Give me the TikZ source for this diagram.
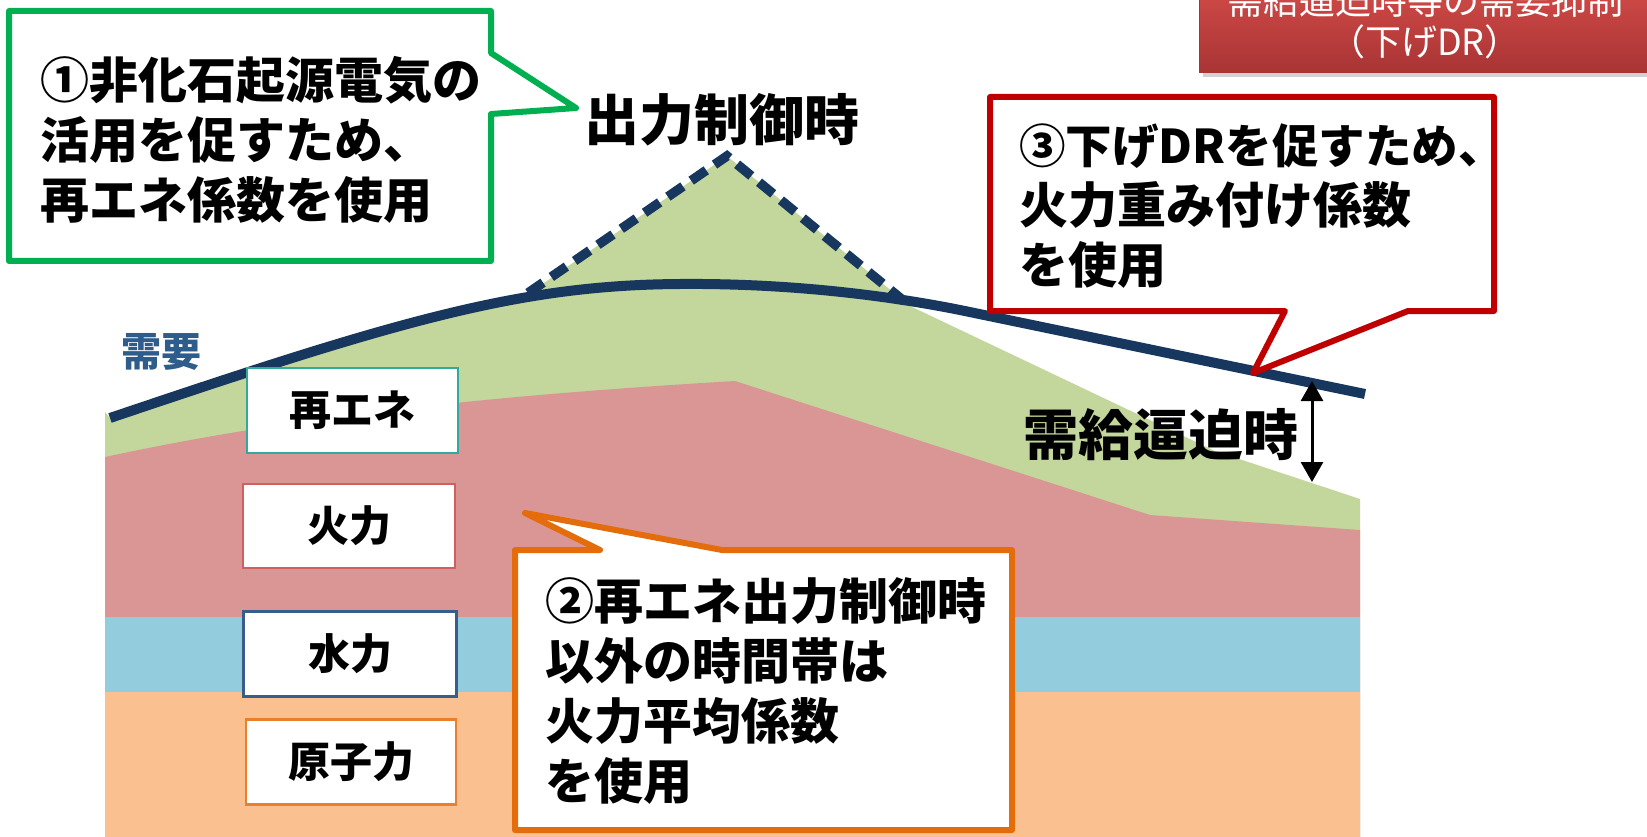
\documentclass[tikz,border=0pt]{standalone}
\usepackage{fontspec}
\newfontfamily\jp{Noto Sans CJK JP}
\usetikzlibrary{arrows.meta,shadows}
\definecolor{renew}{HTML}{C3D69B}
\definecolor{therm}{HTML}{D99694}
\definecolor{hydro}{HTML}{93CDDD}
\definecolor{nuc}{HTML}{FAC090}
\definecolor{navy}{HTML}{17375E}
\definecolor{cgreen}{HTML}{00B050}
\definecolor{cred}{HTML}{C00000}
\definecolor{corange}{HTML}{E46C0A}
\definecolor{renewB}{HTML}{31A99B}
\definecolor{thermB}{HTML}{D0605E}
\definecolor{hydroB}{HTML}{385D8A}
\definecolor{nucB}{HTML}{E8802E}
\definecolor{demandtxt}{HTML}{2E5D8C}
\definecolor{bantop}{HTML}{D04A47}
\definecolor{banbot}{HTML}{A83434}
\begin{document}
\begin{tikzpicture}[x=1pt,y=-1pt,
  callout/.style={line width=6pt, fill=white, line join=round},
  calltext/.style={font=\jp\bfseries\fontsize{49}{60}\selectfont, align=left, anchor=west, inner sep=0pt},
  legbox/.style={draw, line width=2.5pt, fill=white, inner sep=0pt,
     font=\jp\bfseries\fontsize{42}{50}\selectfont},
  bigtext/.style={font=\jp\bfseries\fontsize{55}{60}\selectfont, inner sep=0pt},
  demandline/.style={draw=navy, line width=10pt},
  peakline/.style={draw=navy, line width=9.5pt, dash pattern=on 18.3pt off 10pt},
  gaparrow/.style={{Triangle[width=22pt,length=20pt]}-{Triangle[width=22pt,length=20pt]}, line width=3pt}
]
\useasboundingbox (0,0) rectangle (1647,837);
\fill[white] (0,0) rectangle (1647,837);

% stacked layers
\fill[renew] (105,837) -- (105,412) -- (110,418) .. controls (400,320) and (520,285) .. (680,284) -- (680,837) -- cycle;
\fill[renew] (528,294) -- (727,156) -- (910,306) -- (1215,451) -- (1360,499) -- (1360,837) -- (528,837) -- cycle;
\fill[therm] (105,837) -- (105,457) .. controls (300,415) and (500,395) .. (735,381) -- (1150,515) -- (1360,530) -- (1360,837) -- cycle;
\fill[hydro] (105,617) rectangle (1360,692);
\fill[nuc] (105,692) rectangle (1360,837);

% demand curve and curtailment peak
\draw[demandline] (110,418) .. controls (400,320) and (520,285) .. (680,284) .. controls (800,283) and (900,298) .. (960,310) -- (1365,394);
\draw[peakline] (528,293) -- (727,156) -- (910,306);

% labels
\node[font=\jp\bfseries\fontsize{40}{48}\selectfont, text=demandtxt, inner sep=0pt] (demand) at (161,352) {需要};
\node[bigtext] (peak) at (722,120) {出力制御時};
\node[bigtext] (tight) at (1161,435) {需給逼迫時};
\coordinate (gapTop) at (1312,381);
\coordinate (gapBot) at (1312,482);
\draw[gaparrow] (gapTop) -- (gapBot);

% legend boxes
\node[legbox, draw=renewB, minimum width=211pt, minimum height=85pt] (lRenew) at (352.5,410.5) {再エネ};
\node[legbox, draw=thermB, minimum width=212pt, minimum height=84pt] (lTherm) at (349,526) {火力};
\node[legbox, draw=hydroB, minimum width=213pt, minimum height=85pt] (lHydro) at (350,654) {水力};
\node[legbox, draw=nucB, minimum width=210pt, minimum height=85pt] (lNuc) at (351,762) {原子力};

% callout 1 (green)
\draw[callout, draw=cgreen] (9,11) -- (491,11) -- (491,53) -- (576,108) -- (491,114) -- (491,261) -- (9,261) -- cycle;
\node[calltext] (t1) at (40,140) {①非化石起源電気の\\活用を促すため、\\再エネ係数を使用};

% callout 3 (red)
\draw[callout, draw=cred] (990,97) -- (1494,97) -- (1494,311) -- (1408,311) -- (1253,373) -- (1285,311) -- (990,311) -- cycle;
\node[calltext] (t3) at (1019,206) {{\fontsize{46.5}{60}\selectfont ③下げDRを促すため、}\\火力重み付け係数\\を使用};

% callout 2 (orange)
\draw[callout, draw=corange] (515,550) -- (600,550) -- (525,513) -- (722,550) -- (1012,550) -- (1012,830) -- (515,830) -- cycle;
\node[calltext] (t2) at (545,691) {②再エネ出力制御時\\以外の時間帯は\\火力平均係数\\を使用};

% banner
\path[top color=bantop, bottom color=banbot, draw=banbot, line width=1pt,
  drop shadow={opacity=0.35, shadow xshift=4pt, shadow yshift=-4pt}] (1199,-12) rectangle (1662,73);
\node[font=\jp\fontsize{36}{41}\selectfont, text=white, align=center, inner sep=0pt] (banner) at (1425,22) {需給逼迫時等の需要抑制\\（下げDR）};
\end{tikzpicture}
\end{document}
